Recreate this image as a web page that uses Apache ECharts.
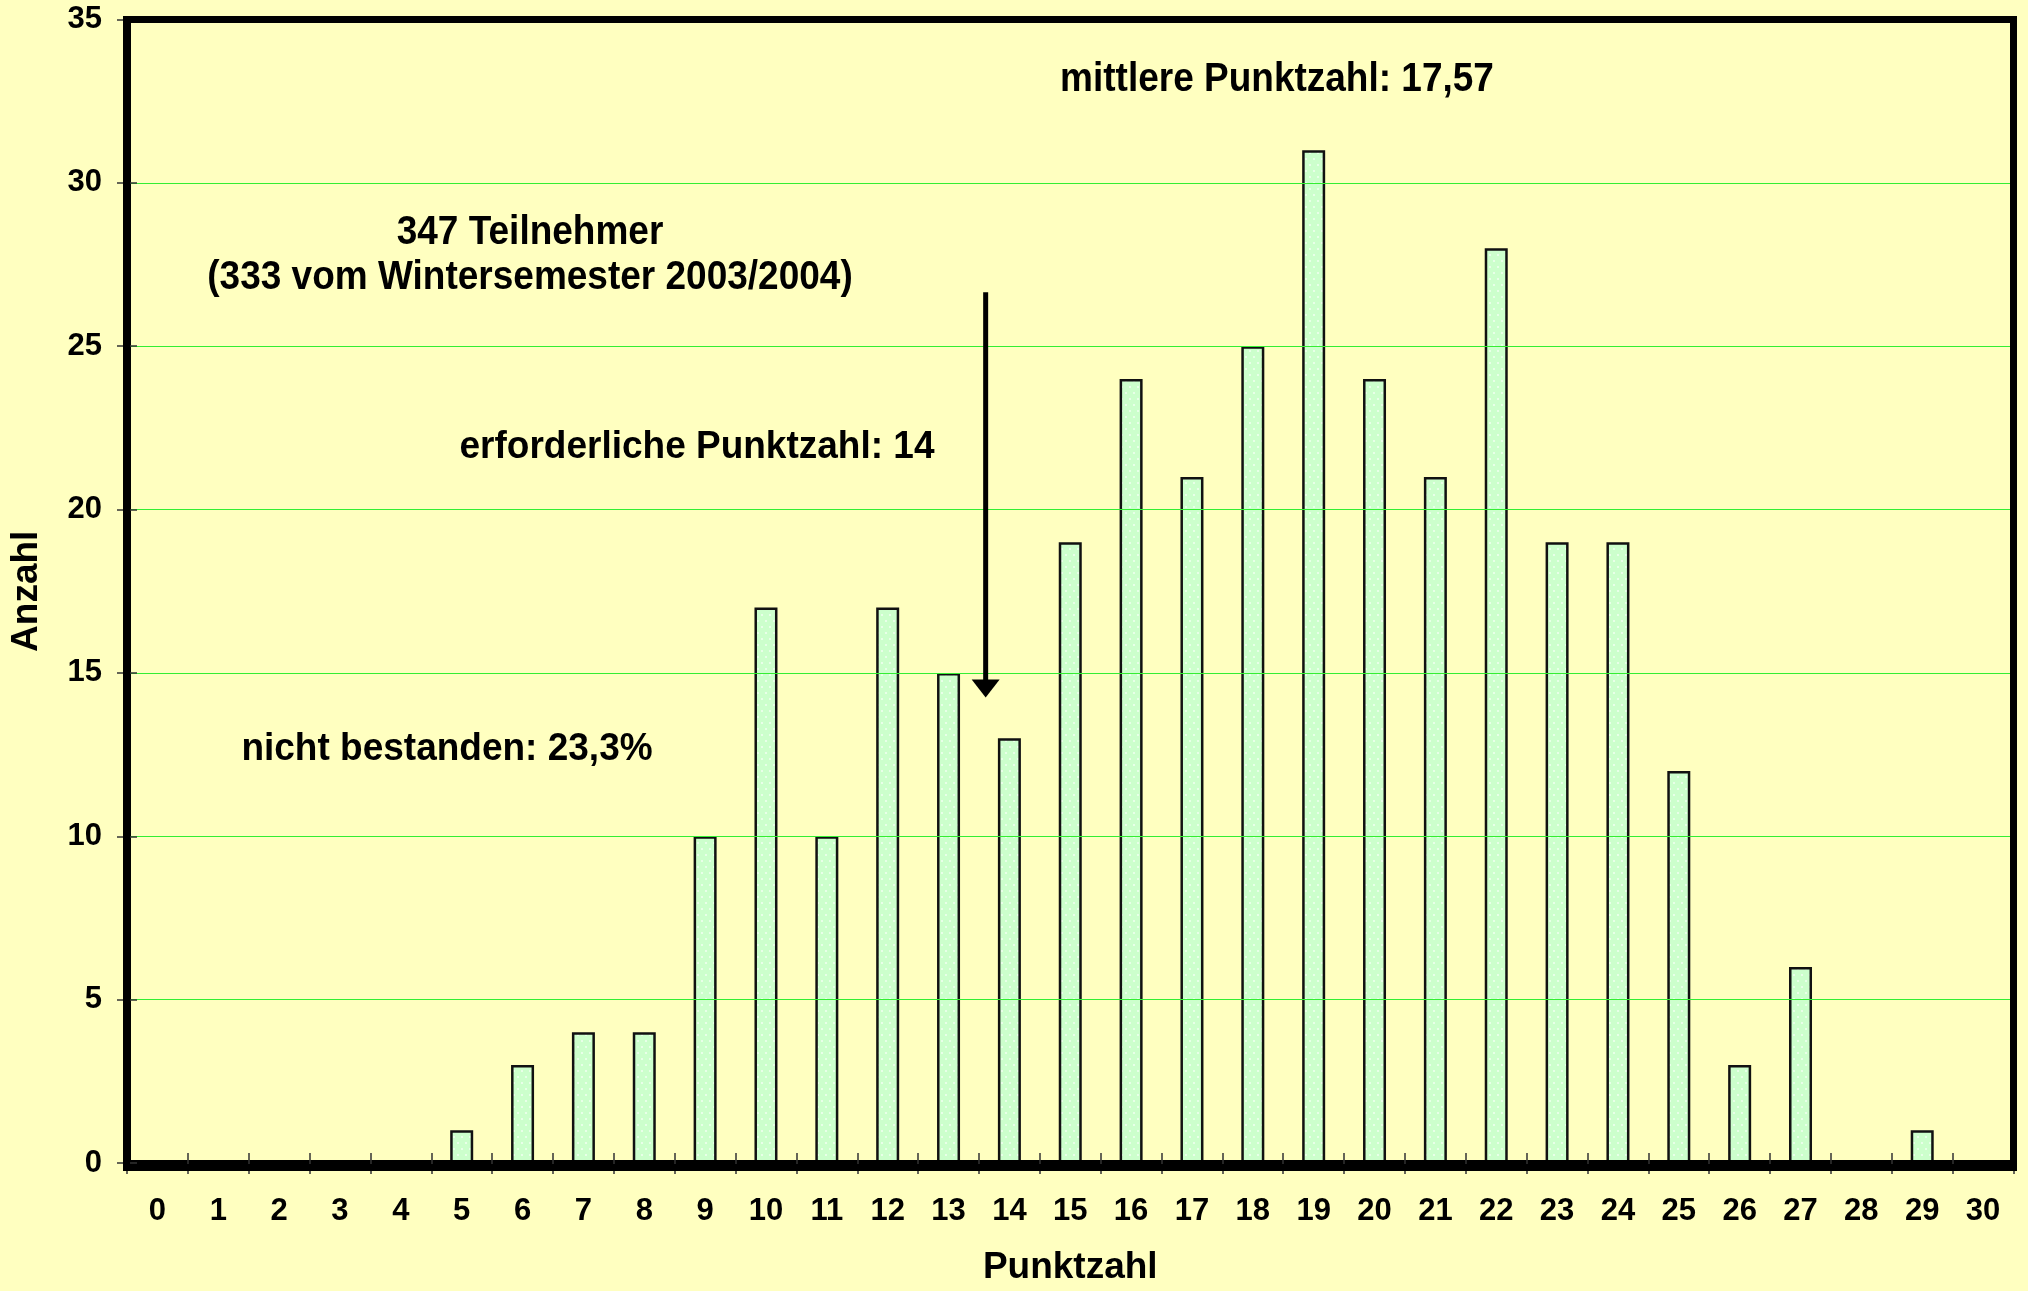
<!DOCTYPE html>
<html>
<head>
<meta charset="utf-8">
<script src="https://cdn.jsdelivr.net/npm/echarts@6/dist/echarts.min.js"></script>
<style>
  html, body { margin: 0; padding: 0; background: #ffffc0; }
  #chart { width: 2028px; height: 1291px; }
</style>
</head>
<body>
<div id="chart"></div>
<script>
// Punktzahl 0..30
const punkte = ['0','1','2','3','4','5','6','7','8','9','10','11','12','13','14','15',
  '16','17','18','19','20','21','22','23','24','25','26','27','28','29','30']
// Anzahl Teilnehmer je Punktzahl
const anzahl = [0, 0, 0, 0, 0, 1, 3, 4, 4, 10, 17, 10, 17, 15, 13, 19,
  24, 21, 25, 31, 24, 21, 28, 19, 19, 12, 3, 6, 0, 1, 0]
const yTicks = { min: 0, max: 35, interval: 5 }

const FONT = '"Liberation Sans", Arial, sans-serif'
const W = 2028, H = 1291
const G = { left: 126.5, right: 14.5, top: 19.5, bottom: 123.5 }

// light green fill with small white dots
function dotPattern () {
  const c = document.createElement('canvas')
  c.width = 8
  c.height = 12
  const ctx = c.getContext('2d')
  ctx.fillStyle = '#ccffcc'
  ctx.fillRect(0, 0, 8, 12)
  ctx.fillStyle = '#f2fff2'
  ctx.beginPath(); ctx.arc(2, 3, 1, 0, Math.PI * 2); ctx.fill()
  ctx.beginPath(); ctx.arc(6, 9, 1, 0, Math.PI * 2); ctx.fill()
  return c
}

const tickStyle = { color: '#333', width: 1.5 }
const labelStyle = { fontSize: 31, fontWeight: 'bold', color: '#000', fontFamily: FONT }
const nameStyle = { fontSize: 37, fontWeight: 'bold', color: '#000', fontFamily: FONT }

const chart = echarts.init(document.getElementById('chart'))
chart.setOption({
  backgroundColor: '#ffffc0',
  animation: false,
  grid: {
    show: false,
    left: G.left,
    right: G.right,
    top: G.top,
    bottom: G.bottom
  },
  xAxis: [
    {
      type: 'category',
      position: 'bottom',
      data: punkte,
      z: 5,
      axisLine: { show: true, lineStyle: { color: '#000', width: 7 } },
      axisTick: { show: true, inside: false, length: 11, lineStyle: tickStyle },
      axisLabel: Object.assign({ margin: 33, interval: 0 }, labelStyle),
      name: 'Punktzahl',
      nameLocation: 'middle',
      nameGap: 86,
      nameTextStyle: nameStyle,
      splitLine: { show: false }
    },
    {
      type: 'category',
      position: 'bottom',
      data: punkte,
      z: 6,
      axisLine: { show: false },
      axisTick: { show: true, inside: true, length: 10, lineStyle: tickStyle },
      axisLabel: { show: false },
      splitLine: { show: false }
    }
  ],
  yAxis: [
    {
      type: 'value',
      position: 'left',
      min: yTicks.min,
      max: yTicks.max,
      interval: yTicks.interval,
      z: 5,
      axisLine: { show: true, lineStyle: { color: '#000', width: 7 } },
      axisTick: { show: true, inside: false, length: 10, lineStyle: tickStyle },
      axisLabel: Object.assign({ margin: 25 }, labelStyle),
      splitLine: { show: true, lineStyle: { color: '#33ee33', width: 1.2 } },
      name: 'Anzahl',
      nameLocation: 'middle',
      nameRotate: 90,
      nameGap: 82,
      nameTextStyle: nameStyle
    },
    {
      type: 'value',
      position: 'left',
      min: yTicks.min,
      max: yTicks.max,
      interval: yTicks.interval,
      z: 6,
      axisLine: { show: false },
      axisTick: { show: true, inside: true, length: 10, lineStyle: tickStyle },
      axisLabel: { show: false },
      splitLine: { show: false }
    }
  ],
  series: [
    {
      type: 'bar',
      data: anzahl,
      xAxisIndex: 0,
      yAxisIndex: 0,
      barWidth: 23,
      itemStyle: {
        color: { image: dotPattern(), repeat: 'repeat' },
        borderColor: '#111',
        borderWidth: 2.5
      },
      z: 2
    }
  ]
})

// annotations
const p13 = chart.convertToPixel({ xAxisIndex: 0 }, '13')
const p14 = chart.convertToPixel({ xAxisIndex: 0 }, '14')
const arrowX = p13 + (p14 - p13) * 0.61
const yTop = chart.convertToPixel({ yAxisIndex: 0 }, 26.65)
const yTip = chart.convertToPixel({ yAxisIndex: 0 }, 14.25)

function note (text, x, y, sy) {
  return {
    type: 'text',
    x: x,
    y: y,
    scaleY: sy,
    z: 100,
    style: {
      text: text,
      font: 'bold 37px ' + FONT,
      fill: '#000',
      align: 'center',
      verticalAlign: 'middle'
    }
  }
}

chart.setOption({
  graphic: [
    // thick plot frame (top and right sides)
    {
      type: 'rect',
      z: 100,
      silent: true,
      shape: { x: G.left, y: G.top, width: W - G.left - G.right, height: H - G.top - G.bottom },
      style: { fill: null, stroke: '#000', lineWidth: 7 }
    },
    note('mittlere Punktzahl: 17,57', 1277, 80, 1.12),
    note('347 Teilnehmer', 530, 233, 1.12),
    note('(333 vom Wintersemester 2003/2004)', 530, 278, 1.12),
    note('erforderliche Punktzahl: 14', 697, 447, 1.06),
    note('nicht bestanden: 23,3%', 447, 749, 1.06),
    {
      type: 'line',
      z: 100,
      shape: { x1: arrowX, y1: yTop, x2: arrowX, y2: yTip - 14 },
      style: { stroke: '#000', lineWidth: 5 }
    },
    {
      type: 'polygon',
      z: 100,
      shape: { points: [[arrowX - 14, yTip - 18], [arrowX + 14, yTip - 18], [arrowX, yTip]] },
      style: { fill: '#000' }
    }
  ]
})
</script>
</body>
</html>
